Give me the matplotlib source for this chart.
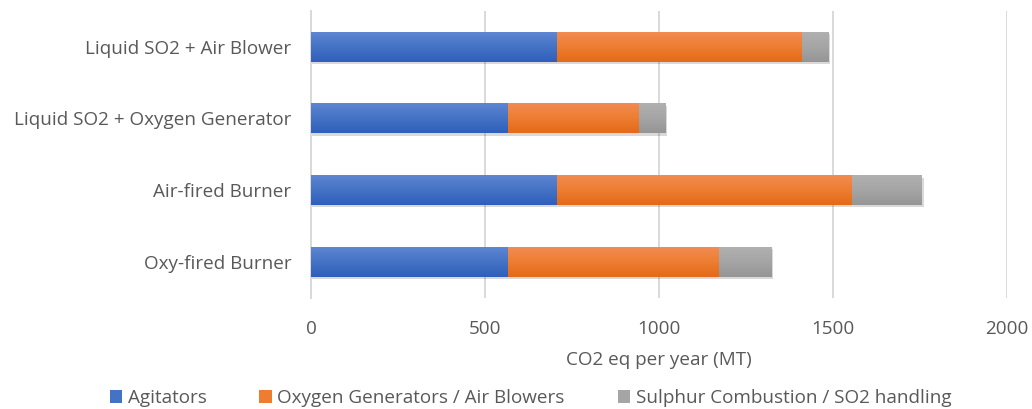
import numpy as np
import matplotlib
matplotlib.use("Agg")
import matplotlib.pyplot as plt
from matplotlib.colors import LinearSegmentedColormap
from matplotlib.patches import Patch
from matplotlib import patheffects as pe

categories = [
    "Liquid SO2 + Air Blower",
    "Liquid SO2 + Oxygen Generator",
    "Air-fired Burner",
    "Oxy-fired Burner",
]
agitators = [706, 565, 706, 565]
oxygen_blowers = [705, 378, 849, 607]
sulphur_so2 = [77, 77, 201, 152]

series_names = [
    "Agitators",
    "Oxygen Generators / Air Blowers",
    "Sulphur Combustion / SO2 handling",
]
x_ticks = [0, 500, 1000, 1500, 2000]

# base colour, lighter top shade, darker bottom shade
palette = [
    ("#4472C4", "#5E86D2", "#2F5FBC"),
    ("#ED7D31", "#F28C52", "#E46A17"),
    ("#A5A5A5", "#B0B0B0", "#959595"),
]

plt.rcParams["font.family"] = ["Open Sans", "DejaVu Sans"]
FS = 13.6
TEXT = "#595959"

fig = plt.figure(figsize=(10.32, 4.09), dpi=100)
ax = fig.add_axes([0.3014, 0.2714, 0.6744, 0.7024])

y = np.arange(len(categories))
bar_h = 0.417
left = np.zeros(len(categories))
for vals, name, (base, top, bottom) in zip(
    [agitators, oxygen_blowers, sulphur_so2], series_names, palette
):
    bars = ax.barh(y, vals, left=left, height=bar_h, color=base,
                   zorder=3, linewidth=0)
    cmap = LinearSegmentedColormap.from_list(name, [bottom, base, top])
    for patch in bars:
        patch.set_path_effects([
            pe.SimplePatchShadow(offset=(1.0, -1.6), shadow_rgbFace="#000000",
                                 alpha=0.15),
            pe.Normal(),
        ])
        x0, yb = patch.get_x(), patch.get_y()
        w, h = patch.get_width(), patch.get_height()
        grad = np.linspace(0, 1, 64).reshape(-1, 1)
        im = ax.imshow(grad, extent=[x0, x0 + w, yb + h, yb], origin="lower",
                       aspect="auto", cmap=cmap, zorder=3.5,
                       interpolation="bicubic")
        im.set_clip_path(patch)
    left = left + np.array(vals)

ax.set_ylim(len(categories) - 0.5, -0.5)
ax.set_xlim(0, 2000)
ax.set_yticks(y)
ax.set_yticklabels(categories)
ax.set_xticks(x_ticks)
ax.set_xticklabels([str(t) for t in x_ticks])

ax.grid(axis="x", color="#D9D9D9", linewidth=1.4, zorder=0)
ax.set_axisbelow(True)
for side in ["top", "right", "bottom"]:
    ax.spines[side].set_visible(False)
ax.spines["left"].set_color("#D9D9D9")
ax.spines["left"].set_linewidth(1.4)

ax.tick_params(axis="both", length=0, labelsize=FS, colors=TEXT)
ax.tick_params(axis="x", pad=16)
ax.tick_params(axis="y", pad=14)

ax.set_xlabel("CO2 eq per year (MT)", fontsize=FS, color=TEXT, labelpad=9)

handles = [Patch(facecolor=c[0], edgecolor="none") for c in palette]
fig.legend(handles, series_names, loc="lower center", ncol=3, frameon=False,
           bbox_to_anchor=(0.514, -0.037), fontsize=FS, labelcolor=TEXT,
           handlelength=0.65, handleheight=0.65, handletextpad=0.3,
           columnspacing=2.8)

fig.savefig("out.png", dpi=100)
